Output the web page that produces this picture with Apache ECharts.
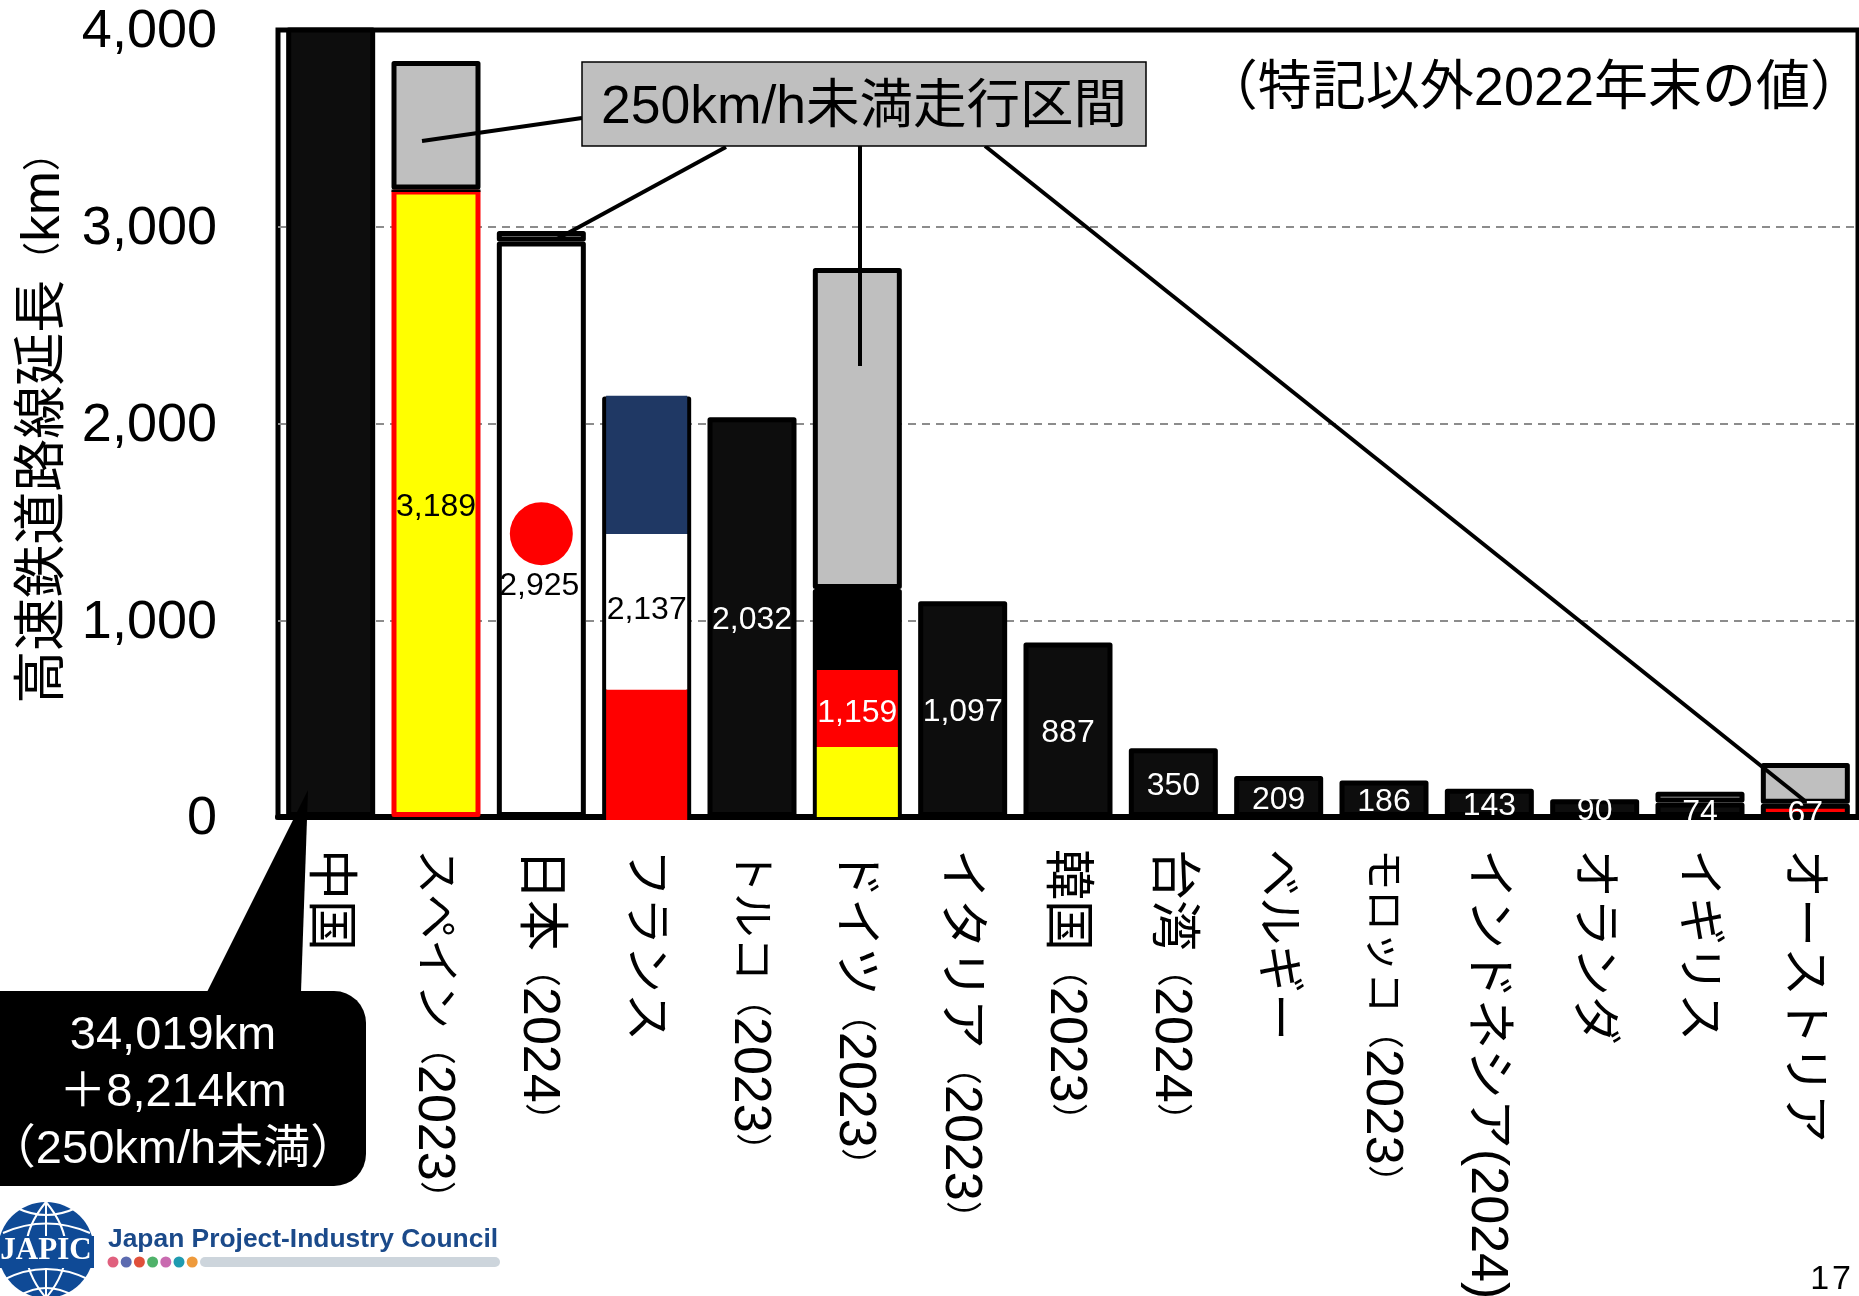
<!DOCTYPE html>
<html lang="ja">
<head>
<meta charset="utf-8">
<title>高速鉄道路線延長</title>
<style>
  html, body { margin: 0; padding: 0; background: #fff; }
  #chart { width: 1859px; height: 1296px; overflow: hidden; }
</style>
<script src="https://cdn.jsdelivr.net/npm/echarts@6/dist/echarts.min.js"></script>
</head>
<body>
<div id="chart"></div>
<script>
// 国・地域名（括弧内は特記の年）
const categories = ['中国', 'スペイン（2023）', '日本（2024）', 'フランス', 'トルコ（2023）', 'ドイツ（2023）', 'イタリア（2023）', '韓国（2023）', '台湾（2024）', 'ベルギー', 'モロッコ（2023）', 'インドネシア(2024)', 'オランダ', 'イギリス', 'オーストリア'];
// 250km/h以上の区間
const highSpeedKm = [34019, 3189, 2925, 2137, 2032, 1159, 1097, 887, 350, 209, 186, 143, 90, 74, 67];
// 250km/h未満の走行区間
const lowSpeedKm = [8214, 653, 54, 0, 0, 1631, 0, 0, 0, 0, 0, 0, 0, 54, 207];
const valueTicks = { min: 0, max: 4000, interval: 1000 };

// 国旗の帯（下端, 上端）
const franceBands = [[-15, 648], [648, 1438], [1438, 2141]];
const germanyBands = [[0, 356], [356, 747]];
const japanDiscValue = 1440;

const FONT = '"Liberation Sans", "Noto Sans CJK JP", sans-serif';
const BLACK_FILL = '#0d0d0d';

// 棒の塗り・枠の個別指定
const barFill = { 1: '#ffff00', 2: '#ffffff', 3: '#ffffff', 5: '#000000', 14: '#ff0000' };
const barBorder = { 1: '#ff0000' };
const darkLabelIdx = [1, 2, 3];
const labelShift = { 2: 53, 5: 7 };
// 元図はプロポーショナル書体で幅が揃わないので、ラベルごとに文字サイズを変える
const labelGlyphSize = [51, 45, 51, 48, 44, 49, 50, 51, 51, 48, 41, 50, 49, 48, 49];

const flagRects = [
  ...franceBands.map((b, i) => ({ cat: 3, low: b[0], high: b[1], width: 0.77, color: ['#ff0000', '#ffffff', '#1f3864'][i] })),
  ...germanyBands.map((b, i) => ({ cat: 5, low: b[0], high: b[1], width: 0.77, color: ['#ffff00', '#ff0000'][i] })),
  // スペインの灰色部との境界は黒線
  { cat: 1, low: 3177, high: 3189, width: 0.845, color: '#000000' }
];

const chart = echarts.init(document.getElementById('chart'));

// ロゴの地球儀（白線）: 始点, 制御点, 終点
const globeCurves = [
  [46, 1202, 46, 1250, 46, 1296],
  [46, 1202, 6, 1250, 46, 1298],
  [46, 1202, 86, 1250, 46, 1298],
  [17, 1208, 46, 1222, 76, 1208],
  [3, 1233, 46, 1214, 90, 1233],
  [3, 1280, 46, 1258, 90, 1280],
  [19, 1296, 46, 1280, 74, 1296]
];
const dotColors = ['#e0607e', '#5c6bb0', '#e0503a', '#4fb26a', '#c96bb0', '#1f9bb0', '#ee9a3c'];

const leaderLines = [
  [422, 141, 582, 118],
  [557, 239, 726, 147],
  [860, 146, 860, 366],
  [985, 146, 1805, 801]
];

// 括弧と数字は別サイズで組む
const richLabel = (text, i) => text
  .replace(/^[^（(]+/, s => `{c${labelGlyphSize[i]}|${s}}`)
  .replace(/（(\d+)）/, '{par|（}{num|$1}{par|）}')
  .replace(/\((\d+)\)/, '{num|($1)}');

const labelRich = {
  par: { fontSize: 36, fontFamily: FONT, color: '#000000' },
  num: { fontSize: 52, fontFamily: FONT, color: '#000000' }
};
labelGlyphSize.forEach(s => {
  labelRich['c' + s] = { fontSize: s, fontFamily: FONT, color: '#000000' };
});

const option = {
  animation: false,
  backgroundColor: '#ffffff',
  grid: {
    left: 278,
    right: 1,
    top: 30,
    bottom: 479,
    outerBoundsMode: 'none',
    show: true,
    backgroundColor: '#ffffff',
    borderColor: '#000000',
    borderWidth: 5
  },
  xAxis: {
    type: 'category',
    data: categories,
    axisTick: { show: false },
    axisLine: { lineStyle: { color: '#000000', width: 6 } },
    axisLabel: {
      interval: 0,
      rotate: -90,
      margin: 32,
      padding: [5, 0, 0, 0],
      color: '#000000',
      fontFamily: FONT,
      formatter: richLabel,
      rich: labelRich
    }
  },
  yAxis: {
    type: 'value',
    min: valueTicks.min,
    max: valueTicks.max,
    interval: valueTicks.interval,
    name: '{cjk|高速鉄道路線延長}{par|（}{num|km}{par|）}',
    nameLocation: 'middle',
    nameGap: 206,
    nameTextStyle: {
      color: '#000000',
      fontFamily: FONT,
      padding: [0, 0, 0, 10],
      rich: {
        cjk: { fontSize: 53, fontFamily: FONT, color: '#000000' },
        par: { fontSize: 38, fontFamily: FONT, color: '#000000' },
        num: { fontSize: 53, fontFamily: FONT, color: '#000000' }
      }
    },
    axisLine: { show: false },
    axisTick: { show: false },
    axisLabel: {
      margin: 61,
      formatter: '{t|{value}}',
      rich: {
        t: { fontSize: 54, fontFamily: FONT, color: '#000000', padding: [5, 0, 0, 0] }
      }
    },
    splitLine: { showMinLine: false, showMaxLine: false, lineStyle: { color: '#8c8c8c', width: 2, type: [8, 6] } }
  },
  series: [
    {
      name: '250km/h以上',
      type: 'bar',
      stack: 'km',
      barWidth: '84.5%',
      data: highSpeedKm.map((v, i) => ({
        value: v,
        itemStyle: {
          color: barFill[i] || BLACK_FILL,
          borderColor: barBorder[i] || '#000000',
          borderWidth: 5,
          borderJoin: 'round'
        }
      }))
    },
    {
      name: '250km/h未満',
      type: 'bar',
      stack: 'km',
      barWidth: '84.5%',
      itemStyle: { color: '#bfbfbf', borderColor: '#000000', borderWidth: 5, borderJoin: 'round' },
      data: lowSpeedKm.map(v => (v === 0 ? '-' : v))
    },
    {
      // 国旗の帯
      name: '国旗',
      type: 'custom',
      z: 3,
      silent: true,
      encode: { x: 0, y: [1, 2] },
      data: flagRects.map(r => [r.cat, r.low, r.high]),
      renderItem: (params, api) => {
        const cat = api.value(0);
        const x = api.coord([cat, 0])[0];
        const top = api.coord([cat, api.value(2)])[1];
        const bottom = api.coord([cat, api.value(1)])[1];
        const rect = flagRects[params.dataIndex];
        const w = api.size([1, 0])[0] * rect.width;
        return {
          type: 'rect',
          shape: { x: x - w / 2, y: top, width: w, height: bottom - top },
          style: { fill: rect.color }
        };
      }
    },
    {
      // 日本の日の丸
      name: '日の丸',
      type: 'scatter',
      z: 3,
      silent: true,
      symbol: 'circle',
      symbolSize: 63,
      itemStyle: { color: '#ff0000', opacity: 1 },
      data: [[2, japanDiscValue]]
    },
    {
      // 数値ラベル（棒の中央）
      name: 'ラベル',
      type: 'custom',
      z: 5,
      silent: true,
      encode: { x: 0, y: 1 },
      data: highSpeedKm.map((v, i) => [i, v]),
      renderItem: (params, api) => {
        const i = api.value(0);
        const v = api.value(1);
        if (i === 0) return null; // 中国は吹き出しに記載
        const p = api.coord([i, v / 2]);
        return {
          type: 'text',
          style: {
            x: p[0] - (i === 2 ? 2 : 0),
            y: p[1] + 3.5 + (labelShift[i] || 0),
            text: v.toLocaleString('en-US'),
            align: 'center',
            verticalAlign: 'middle',
            fill: darkLabelIdx.includes(i) ? '#000000' : '#ffffff',
            font: '32px ' + FONT
          }
        };
      }
    }
  ],
  graphic: {
    elements: [
      ...leaderLines.map(l => ({
        type: 'line',
        z: 60,
        shape: { x1: l[0], y1: l[1], x2: l[2], y2: l[3] },
        style: { stroke: '#000000', lineWidth: 4 }
      })),
      {
        type: 'rect',
        z: 70,
        shape: { x: 582, y: 62, width: 564, height: 84 },
        style: { fill: '#bfbfbf', stroke: '#000000', lineWidth: 1.5 }
      },
      {
        type: 'text',
        z: 71,
        style: { x: 864, y: 108, text: '250km/h未満走行区間', textAlign: 'center', textVerticalAlign: 'middle', font: '53.5px ' + FONT, fill: '#000000' }
      },
      {
        type: 'text',
        z: 71,
        style: { x: 1864, y: 90, text: '（特記以外2022年末の値）', textAlign: 'right', textVerticalAlign: 'middle', font: '54px ' + FONT, fill: '#000000' }
      },
      // 中国の吹き出し
      {
        type: 'polygon',
        z: 80,
        shape: { points: [[308, 790], [207, 992], [301, 992]] },
        style: { fill: '#000000' }
      },
      {
        type: 'rect',
        z: 80,
        shape: { x: -30, y: 991, width: 396, height: 195, r: 32 },
        style: { fill: '#000000' }
      },
      ...['34,019km', '＋8,214km', '（250km/h未満）'].map((t, i) => ({
        type: 'text',
        z: 81,
        style: { x: 173, y: 1036 + i * 57, text: t, textAlign: 'center', textVerticalAlign: 'middle', font: '47px ' + FONT, fill: '#ffffff' }
      })),
      // ロゴ
      {
        type: 'circle',
        z: 50,
        shape: { cx: 46, cy: 1250, r: 48 },
        style: { fill: '#0f4a96' }
      },
      ...globeCurves.map(c => ({
        type: 'bezierCurve',
        z: 51,
        shape: { x1: c[0], y1: c[1], cpx1: c[2], cpy1: c[3], x2: c[4], y2: c[5] },
        style: { fill: 'none', stroke: '#ffffff', lineWidth: 2 }
      })),
      {
        type: 'rect',
        z: 51,
        shape: { x: 0, y: 1236, width: 94, height: 32 },
        style: { fill: '#0f4a96' }
      },
      {
        type: 'text',
        z: 52,
        style: { x: 46, y: 1251, text: 'JAPIC', textAlign: 'center', textVerticalAlign: 'middle', font: 'bold 31px "Liberation Serif", serif', fill: '#ffffff' }
      },
      {
        type: 'text',
        z: 52,
        style: { x: 108, y: 1240, text: 'Japan Project-Industry Council', textAlign: 'left', textVerticalAlign: 'middle', font: 'bold 26.4px "Liberation Sans", sans-serif', fill: '#1b4a8a' }
      },
      ...dotColors.map((c, i) => ({
        type: 'circle',
        z: 52,
        shape: { cx: 113 + i * 13.2, cy: 1262, r: 5.5 },
        style: { fill: c }
      })),
      {
        type: 'rect',
        z: 52,
        shape: { x: 200, y: 1257, width: 300, height: 10, r: 5 },
        style: { fill: '#cdd5dc' }
      },
      // ページ番号
      {
        type: 'text',
        z: 52,
        style: { x: 1851, y: 1280, text: '1\u200a7', textAlign: 'right', textVerticalAlign: 'middle', font: '34px ' + FONT, fill: '#000000' }
      }
    ]
  }
};

chart.setOption(option);
window.addEventListener('resize', () => chart.resize());
</script>
</body>
</html>
